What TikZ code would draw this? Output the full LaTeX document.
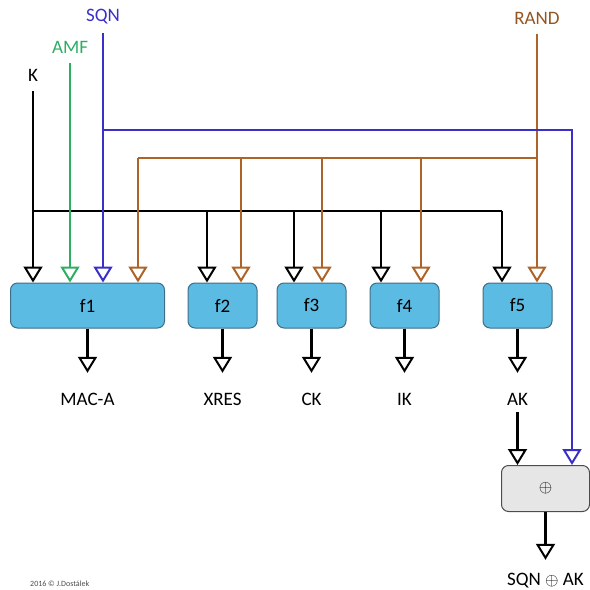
\documentclass[tikz,border=0pt]{standalone}
\usepackage{fontspec}
\setmainfont{Carlito}
\usetikzlibrary{arrows.meta,calc}
\definecolor{fboxfill}{HTML}{5CBBE2}
\definecolor{fboxline}{HTML}{3F6F86}
\definecolor{xorfill}{HTML}{E6E6E6}
\definecolor{sqnblue}{HTML}{3B2FC9}
\definecolor{amfgreen}{HTML}{2EAE62}
\definecolor{randbrown}{HTML}{AE6428}
\tikzset{
    wire/.style={line width=2.4pt},
    arr/.style={wire, -{Triangle[open, width=19pt, length=16pt, line width=2pt]}},
    fbox/.style={draw=fboxline, fill=fboxfill, line width=1pt, rounded corners=7pt,
        minimum height=45pt, font=\fontsize{19}{21}\selectfont},
    xorbox/.style={draw=black!70, fill=xorfill, line width=1pt, rounded corners=7pt,
        minimum width=88pt, minimum height=46pt, font=\fontsize{19}{21}\selectfont},
    inlabel/.style={font=\fontsize{19}{21}\selectfont, inner sep=2pt},
    outlabel/.style={font=\fontsize{19}{21}\selectfont, inner sep=0pt, text height=12pt, text depth=0pt}
}
\begin{document}
\begin{tikzpicture}[x=1pt, y=-1pt]
    \useasboundingbox (0,0) rectangle (590,590);
    % inputs
    \node[inlabel] (K) at (33,75) {K};
    \node[inlabel, text=amfgreen] (AMF) at (70,47) {AMF};
    \node[inlabel, text=sqnblue] (SQN) at (103,17) {SQN};
    \node[inlabel, text=randbrown!85!black] (RAND) at (537,18) {RAND};
    % functions
    \node[fbox, minimum width=154pt] (f1) at (87.5,305.5) {f1};
    \node[fbox, minimum width=69pt] (f2) at (222.5,305.5) {f2};
    \node[fbox, minimum width=69pt] (f3) at (311.5,305.5) {f3};
    \node[fbox, minimum width=69pt] (f4) at (404.5,305.5) {f4};
    \node[fbox, minimum width=69pt] (f5) at (517.5,305.5) {f5};
    \node[xorbox] (xor) at (545.5,488.5) {$\oplus$};
    % outputs
    \node[outlabel] (MACA) at (87.5,399) {MAC-A};
    \node[outlabel] (XRES) at (222.5,399) {XRES};
    \node[outlabel] (CK) at (311.5,399) {CK};
    \node[outlabel] (IK) at (404.5,399) {IK};
    \node[outlabel] (AK) at (517.5,399) {AK};
    \node[outlabel] (SQNAK) at (545.5,579) {SQN $\oplus$ AK};
    % bus points
    \coordinate (sqnbus) at (572,130);
    \coordinate (randbus) at (138,158);
    \coordinate (kbus) at (502,211);
    % K
    \draw[wire] (K |- kbus) -- (kbus);
    \draw[arr] ([yshift=-8pt]K.south) -- (K |- f1.north);
    \foreach \x/\f in {207/f2,294/f3,381/f4,502/f5}
        \draw[arr] (\x,211 |- kbus) -- (\x,0 |- \f.north);
    % RAND
    \draw[wire, randbrown] (RAND |- randbus) -- (randbus);
    \draw[arr, randbrown] ([yshift=-8pt]RAND.south) -- (RAND |- f5.north);
    \draw[arr, randbrown] (randbus) -- (randbus |- f1.north);
    \foreach \x/\f in {241/f2,322/f3,421/f4}
        \draw[arr, randbrown] (\x,0 |- randbus) -- (\x,0 |- \f.north);
    % AMF
    \draw[arr, amfgreen] ([yshift=-8pt]AMF.south) -- (AMF |- f1.north);
    % SQN
    \draw[arr, sqnblue] ([yshift=-6pt]SQN.south) -- (SQN |- f1.north);
    \draw[arr, sqnblue] (SQN |- sqnbus) -- (sqnbus) -- (sqnbus |- xor.north);
    % results
    \foreach \f/\o in {f1/MACA,f2/XRES,f3/CK,f4/IK,f5/AK}
        \draw[arr] (\f.south) -- ([yshift=20pt]\o.north);
    \draw[arr] ([yshift=-7pt]AK.south) -- (AK.south |- xor.north);
    \draw[arr] (xor.south) -- ([yshift=13pt]SQNAK.north);
    \node[font=\fontsize{8}{9}\selectfont, text=black!70, anchor=base west, inner sep=0pt] (copy) at (30,586) {2016 © J.Dostálek};
\end{tikzpicture}
\end{document}
